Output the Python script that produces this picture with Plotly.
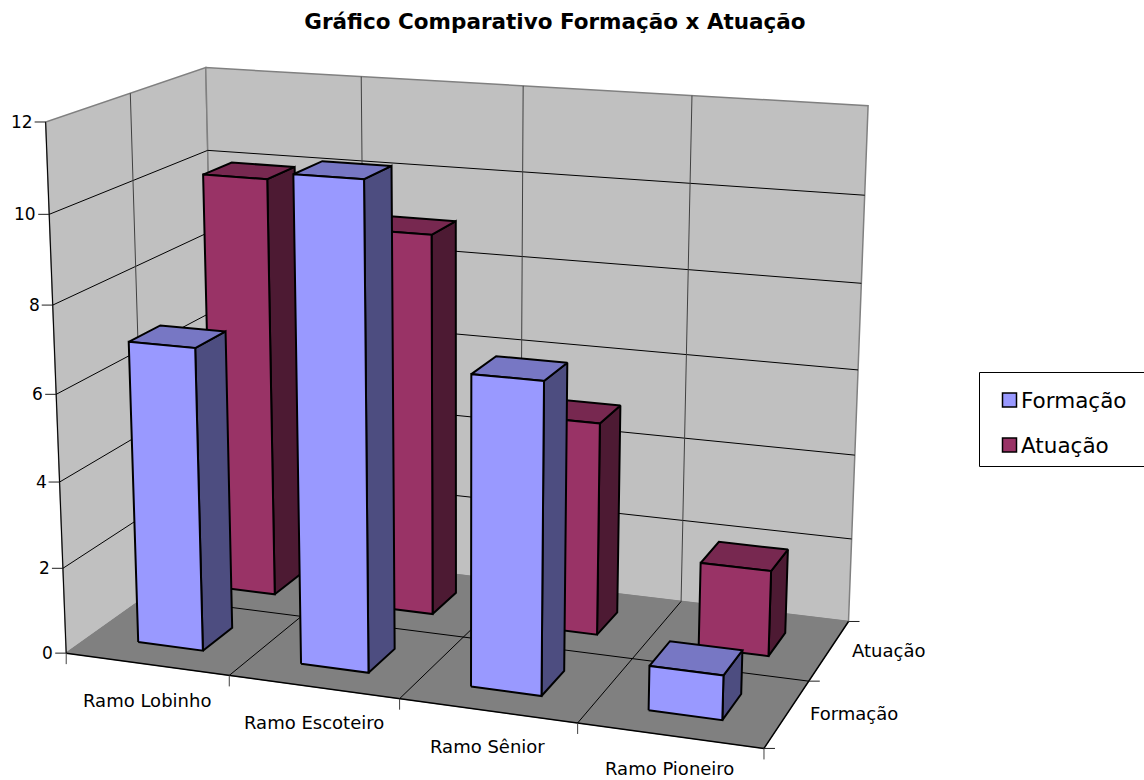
import numpy as np
import plotly.graph_objects as go

# Chart data
categories = ["Ramo Lobinho", "Ramo Escoteiro", "Ramo Sênior", "Ramo Pioneiro"]
series_names = ["Formação", "Atuação"]
formacao = [7, 11, 7, 1]
atuacao = [10, 9, 5, 2]
value_ticks = [0, 2, 4, 6, 8, 10, 12]
value_max = 12

# Perspective camera: maps the unit box (category, series, value) to page pixels
CAMERA = np.array([
    [632.7703762, 176.1218371, -22.836426, 66.212974],
    [31.6210906, -43.8092644, -537.1983481, 653.1418296],
    [-0.0850668, 0.1164166, -0.0495707, 1.0],
])
# Extent of a bar within its category and series slots
BAR_X = (0.2997, 0.7019)
BAR_Y = (0.2963, 0.6904)

FONT = "DejaVu Sans"
N_CAT = len(categories)
N_SER = len(series_names)
SERIES_COLOURS = ["#9999FF", "#993366"]


def project(cat, ser, value):
    """Project a point given in category, series and value units."""
    h = CAMERA @ np.array([cat / N_CAT, ser / N_SER, value / value_max, 1.0])
    return float(h[0] / h[2]), float(h[1] / h[2])


fig = go.Figure()


def polygon(corners, fill, line_color="black", width=2.0):
    pts = [project(*c) for c in corners]
    pts.append(pts[0])
    fig.add_trace(go.Scatter(
        x=[p[0] for p in pts], y=[p[1] for p in pts], mode="lines",
        fill="toself", fillcolor=fill, line=dict(color=line_color, width=width),
        hoverinfo="skip", showlegend=False))


def segments(pairs, color="black", width=1.0):
    xs, ys = [], []
    for a, b in pairs:
        pa, pb = project(*a), project(*b)
        xs += [pa[0], pb[0], None]
        ys += [pa[1], pb[1], None]
    fig.add_trace(go.Scatter(
        x=xs, y=ys, mode="lines", line=dict(color=color, width=width),
        hoverinfo="skip", showlegend=False))


def tick_marks(anchors, dx, dy, color="black", width=1.0):
    xs, ys = [], []
    for a in anchors:
        p = project(*a)
        xs += [p[0], p[0] + dx, None]
        ys += [p[1], p[1] + dy, None]
    fig.add_trace(go.Scatter(
        x=xs, y=ys, mode="lines", line=dict(color=color, width=width),
        hoverinfo="skip", showlegend=False))


# Walls and floor
polygon([(0, 0, 0), (0, N_SER, 0), (0, N_SER, value_max), (0, 0, value_max)], "#C0C0C0", "#808080", 1.5)
polygon([(0, N_SER, 0), (N_CAT, N_SER, 0), (N_CAT, N_SER, value_max), (0, N_SER, value_max)], "#C0C0C0", "#808080", 1.5)
polygon([(0, 0, 0), (N_CAT, 0, 0), (N_CAT, N_SER, 0), (0, N_SER, 0)], "#808080", "#808080", 1)

# Gridlines
grid = []
for v in value_ticks[1:-1]:
    grid.append(((0, 0, v), (0, N_SER, v)))
    grid.append(((0, N_SER, v), (N_CAT, N_SER, v)))
grid.append(((0, 0, 0), (0, 0, value_max)))
for c in range(1, N_CAT):
    grid.append(((c, 0, 0), (c, N_SER, 0)))
for s in range(1, N_SER):
    grid.append(((0, s, 0), (N_CAT, s, 0)))
segments(grid, "black", 1.0)
upright = [((c, N_SER, 0), (c, N_SER, value_max)) for c in range(1, N_CAT)]
upright += [((0, s, 0), (0, s, value_max)) for s in range(1, N_SER)]
segments(upright, "#404040", 1.0)

# Front and right floor edges
segments([((0, 0, 0), (N_CAT, 0, 0)), ((N_CAT, 0, 0), (N_CAT, N_SER, 0))], "black", 1.5)

# Tick marks
tick_marks([(0, 0, v) for v in value_ticks], -11, 0, "#202020")
tick_marks([(c, 0, 0) for c in range(N_CAT + 1)], 0, 11, "#404040")
tick_marks([(N_CAT, s, 0) for s in range(N_SER + 1)], 11, 0, "#202020")


def bar(cat, ser, value, front, top, side):
    x0, x1 = cat + BAR_X[0], cat + BAR_X[1]
    y0, y1 = ser + BAR_Y[0], ser + BAR_Y[1]
    polygon([(x1, y0, 0), (x1, y1, 0), (x1, y1, value), (x1, y0, value)], side)
    polygon([(x0, y0, value), (x1, y0, value), (x1, y1, value), (x0, y1, value)], top)
    polygon([(x0, y0, 0), (x1, y0, 0), (x1, y0, value), (x0, y0, value)], front)


for c, v in enumerate(atuacao):
    bar(c, 1, v, SERIES_COLOURS[1], "#772850", "#4D1A33")
for c, v in enumerate(formacao):
    bar(c, 0, v, SERIES_COLOURS[0], "#7777C4", "#4D4D80")

# Axis and legend texts
annotations = []


def label(text, x, y, xanchor="center", size=18):
    annotations.append(dict(
        text=text, x=x, y=y, xref="x", yref="y", xanchor=xanchor, yanchor="middle",
        showarrow=False, font=dict(family=FONT, size=size, color="black"),
        borderpad=0, borderwidth=0))


for v in value_ticks:
    px, py = project(0, 0, v)
    label(str(v), px - 13, py, "right", 17)
for c, name in enumerate(categories):
    px, py = project(c + 0.5, 0, 0)
    # The last category label sits at the page bottom; keep its box on the page
    label(name, px, min(py + 36, 768), "center", 18)
for s, name in enumerate(series_names):
    px, py = project(N_CAT, s + 0.5, 0)
    label(name, px + 23, py, "left", 18)

# Legend panel with its keys
legend_rows = [400, 445]
for name, colour, row in zip(series_names, SERIES_COLOURS, legend_rows):
    fig.add_trace(go.Scatter(
        x=[1009.5], y=[row], mode="markers", name=name, hoverinfo="skip", showlegend=False,
        marker=dict(symbol="square", size=14, color=colour, line=dict(color="black", width=1.5))))
    label(name, 1021, row, "left", 21.5)

fig.update_layout(
    width=1144, height=780, margin=dict(l=0, r=0, t=0, b=0),
    paper_bgcolor="white", plot_bgcolor="white",
    xaxis=dict(range=[0, 1144], visible=False, fixedrange=True),
    yaxis=dict(range=[780, 0], visible=False, fixedrange=True),
    title=dict(text="<b>Gráfico Comparativo Formação x Atuação</b>", x=555 / 1144, xanchor="center",
               y=1 - 21 / 780, yanchor="middle", font=dict(family=FONT, size=21.5, color="black")),
    shapes=[dict(type="rect", xref="x", yref="y", x0=979.5, y0=372.5, x1=1150, y1=466.5,
                 line=dict(color="black", width=1), fillcolor="rgba(0,0,0,0)", layer="below")],
    annotations=annotations,
    showlegend=False,
)
fig.write_html("out.html")
